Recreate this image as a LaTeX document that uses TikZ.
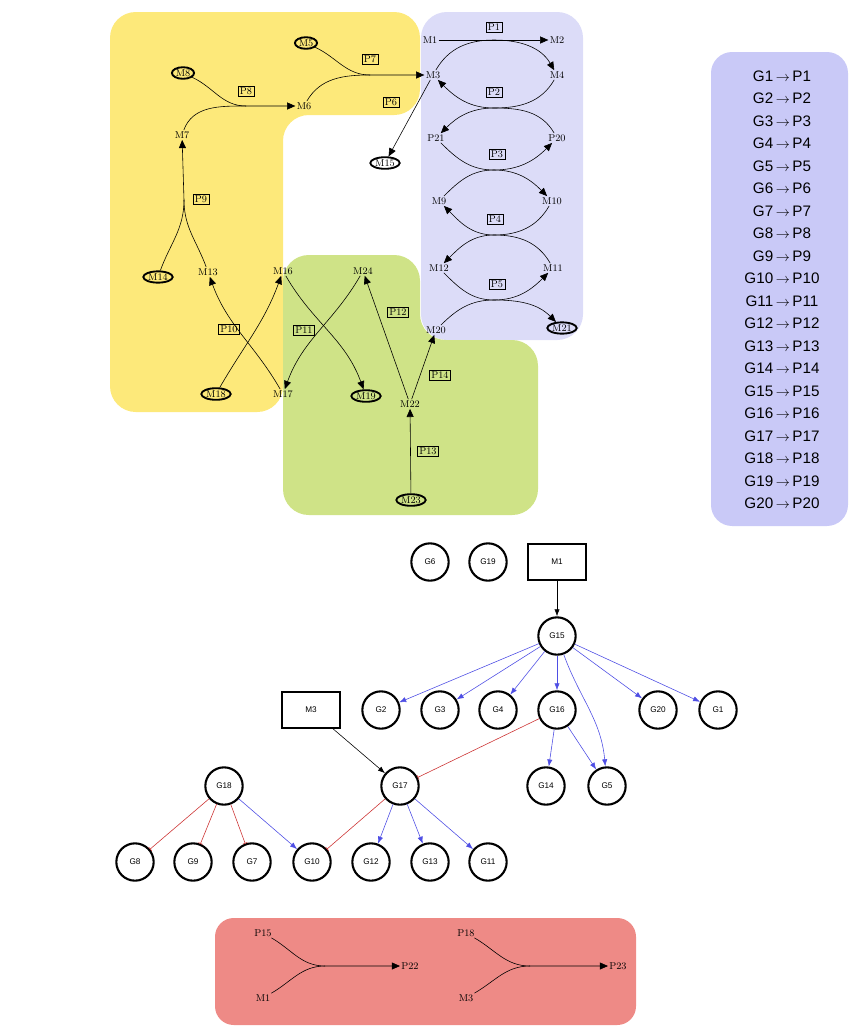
\documentclass[tikz,border=0pt]{standalone}
\usepackage{fontspec}
\newfontfamily\sansf{Liberation Sans}
\usetikzlibrary{arrows.meta,shapes.geometric}
\definecolor{yel}{HTML}{FDE97A}
\definecolor{lav}{HTML}{DCDCF8}
\definecolor{grn}{HTML}{CFE387}
\definecolor{rd}{HTML}{EE8A86}
\definecolor{leg}{HTML}{C9C9F7}
\definecolor{gblue}{HTML}{2222DD}
\definecolor{gred}{HTML}{CC3333}
\begin{document}
\begin{tikzpicture}[x=0.03cm,y=-0.03cm,
 m/.style={font=\fontsize{8.5}{9}\selectfont,inner sep=1pt},
 me/.style={m,ellipse,draw,line width=1.6pt,inner sep=0.5pt},
 p/.style={m,draw,inner sep=1.5pt,font=\fontsize{8.5}{9}\selectfont},
 ar/.style={-{Triangle[length=7pt,width=6pt]},line width=0.5pt},
 ln/.style={line width=0.5pt},
 g/.style={circle,draw,line width=1.8pt,minimum size=1.12cm,inner sep=0pt,font=\sansf\fontsize{7}{8}\selectfont},
 gb/.style={rectangle,draw,line width=1.6pt,minimum width=1.75cm,minimum height=1.08cm,font=\sansf\fontsize{7}{8}\selectfont},
 ba/.style={gblue!80,-{Latex[length=6pt,width=4.5pt]},line width=0.5pt},
 rb/.style={gred,-{Bar[width=4pt]},line width=0.5pt},
 ka/.style={black,-{Latex[length=6pt,width=4.5pt]},line width=0.5pt},
 rc/.style={rounded corners=22}]
\useasboundingbox (0,0) rectangle (850,1027);
% backgrounds
\fill[yel,rc] (110,12) -- (420,12) -- (420,115) -- (283,115) -- (283,412) -- (110,412) -- cycle;
\fill[lav,rc] (421,12) rectangle (583,340);
\fill[grn,rc] (283,255) -- (420,255) -- (420,340) -- (538,340) -- (538,515) -- (283,515) -- cycle;
\fill[leg,rounded corners=18] (711,52) rectangle (848,526);
\fill[rd,rounded corners=16] (215,918) rectangle (636,1025);
% legend
\foreach \i [count=\k from 0] in {1,...,20}
  \node[font=\sansf\fontsize{13}{14}\selectfont] (L\i) at (782,76+22.5*\k) {G\i\,$\rightarrow$\,P\i};
% top metabolites
\node[m] (M1) at (430,40) {M1};
\node[m] (M2) at (557,40) {M2};
\node[m] (M3) at (433,75) {M3};
\node[m] (M4) at (557,75) {M4};
\node[m] (P21) at (436,138) {P21};
\node[m] (P20) at (557,138) {P20};
\node[m] (M9) at (439,201) {M9};
\node[m] (M10) at (552,201) {M10};
\node[m] (M12) at (439,268) {M12};
\node[m] (M11) at (553,268) {M11};
\node[m] (M20) at (436,330) {M20};
\node[me] (M21) at (562,328) {M21};
\node[me] (M5) at (306,43) {M5};
\node[me] (M8) at (183,73) {M8};
\node[m] (M6) at (304,106) {M6};
\node[m] (M7) at (182,135) {M7};
\node[me] (M14) at (158,277) {M14};
\node[m] (M13) at (208,272) {M13};
\node[m] (M16) at (283,271) {M16};
\node[m] (M24) at (363,271) {M24};
\node[me] (M18) at (216,394) {M18};
\node[m] (M17) at (283,394) {M17};
\node[me] (M19) at (366,396) {M19};
\node[m] (M22) at (410,404) {M22};
\node[me] (M23) at (411,500) {M23};
\node[me] (M15) at (385,163) {M15};
% reaction labels
\node[p] (P1) at (494,27) {P1};
\node[p] (P2) at (494,92) {P2};
\node[p] (P3) at (497,154) {P3};
\node[p] (P4) at (495,219) {P4};
\node[p] (P5) at (497,284) {P5};
\node[p] (P6) at (391,102) {P6};
\node[p] (P7) at (370,59) {P7};
\node[p] (P8) at (246,91) {P8};
\node[p] (P9) at (201,199) {P9};
\node[p] (P10) at (229,329) {P10};
\node[p] (P11) at (304,330) {P11};
\node[p] (P12) at (398,312) {P12};
\node[p] (P13) at (428,451) {P13};
\node[p] (P14) at (440,375) {P14};
% junctions
\coordinate (j1) at (494,40);
\coordinate (j2) at (494,108);
\coordinate (j3) at (494,170);
\coordinate (j4) at (494,235);
\coordinate (j5) at (494,300);
\coordinate (j7) at (370,75);
\coordinate (j8) at (246,106);
\coordinate (j9) at (184,200);
% edges
\draw[ar] (M1) -- (M2);
\draw[ar] (M3) to[out=60,in=180] (j1) to[out=0,in=120] (M4);
\draw[ar] (M4) to[out=-120,in=0] (j2) to[out=180,in=-45] (M3);
\draw[ar] (P20) to[out=120,in=0] (j2) to[out=180,in=45] (P21);
\draw[ar] (P21) to[out=-45,in=180] (j3) to[out=0,in=135] (M10);
\draw[ar] (M9) to[out=45,in=180] (j3) to[out=0,in=-135] (P20);
\draw[ar] (M10) to[out=-120,in=0] (j4) to[out=180,in=-45] (M9);
\draw[ar] (M11) to[out=120,in=0] (j4) to[out=180,in=45] (M12);
\draw[ar] (M12) to[out=-45,in=180] (j5) to[out=0,in=135] (M21);
\draw[ar] (M20) to[out=45,in=180] (j5) to[out=0,in=-135] (M11);
\draw[ar] (M5) to[out=-25,in=180] (j7) -- (M3);
\draw[ln] (M6) to[out=60,in=180] (j7);
\draw[ar] (M8) to[out=-25,in=180] (j8) -- (M6);
\draw[ln] (M7) to[out=70,in=180] (j8);
\draw[ar] (M14) to[out=70,in=-90] (j9) -- (M7);
\draw[ln] (M13) to[out=110,in=-90] (j9);
\draw[ar] (M18) to[out=60,in=-110] (M16);
\draw[ar] (M17) to[out=120,in=-70] (M13);
\draw[ar] (M16) to[out=-60,in=110] (M19);
\draw[ar] (M24) to[out=-120,in=70] (M17);
\draw[ar] (M22) -- (M24);
\draw[ar] (M22) -- (M20);
\draw[ar] (M23) -- (M22);
\draw[ar] (M3) -- (M15);
% graph
\node[g] (G6) at (430,562) {G6};
\node[g] (G19) at (488,562) {G19};
\node[gb] (BM1) at (557,562) {M1};
\node[g] (G15) at (557,636) {G15};
\node[g] (G2) at (381,710) {G2};
\node[g] (G3) at (440,710) {G3};
\node[g] (G4) at (498,710) {G4};
\node[g] (G16) at (557,710) {G16};
\node[g] (G20) at (658,710) {G20};
\node[g] (G1) at (718,710) {G1};
\node[gb] (BM3) at (311,710) {M3};
\node[g] (G18) at (224,786) {G18};
\node[g] (G17) at (400,786) {G17};
\node[g] (G14) at (546,786) {G14};
\node[g] (G5) at (607,786) {G5};
\node[g] (G8) at (135,862) {G8};
\node[g] (G9) at (193,862) {G9};
\node[g] (G7) at (252,862) {G7};
\node[g] (G10) at (312,862) {G10};
\node[g] (G12) at (371,862) {G12};
\node[g] (G13) at (430,862) {G13};
\node[g] (G11) at (488,862) {G11};
\draw[ka] (BM1) -- (G15);
\draw[ka] (BM3) -- (G17);
\foreach \t in {G2,G3,G4,G16,G20,G1} \draw[ba] (G15) -- (\t);
\draw[ba] (G15) to[out=-70,in=95] (G5);
\draw[ba] (G16) -- (G14);
\draw[ba] (G16) -- (G5);
\draw[ba] (G17) -- (G12);
\draw[ba] (G17) -- (G13);
\draw[ba] (G17) -- (G11);
\draw[ba] (G18) -- (G10);
\draw[rb] (G16) -- (G17);
\draw[rb] (G18) -- (G8);
\draw[rb] (G18) -- (G9);
\draw[rb] (G18) -- (G7);
\draw[rb] (G17) -- (G10);
% bottom box
\node[m] (P15) at (263,933) {P15};
\node[m] (BM1b) at (263,998) {M1};
\node[m] (P22) at (410,966) {P22};
\node[m] (P18) at (466,933) {P18};
\node[m] (BM3b) at (466,998) {M3};
\node[m] (P23) at (618,966) {P23};
\coordinate (j15) at (325,966);
\coordinate (j18) at (530,966);
\draw[ar] (P15) to[out=-30,in=180] (j15) -- (P22);
\draw[ln] (BM1b) to[out=30,in=180] (j15);
\draw[ar] (P18) to[out=-30,in=180] (j18) -- (P23);
\draw[ln] (BM3b) to[out=30,in=180] (j18);
\end{tikzpicture}
\end{document}
